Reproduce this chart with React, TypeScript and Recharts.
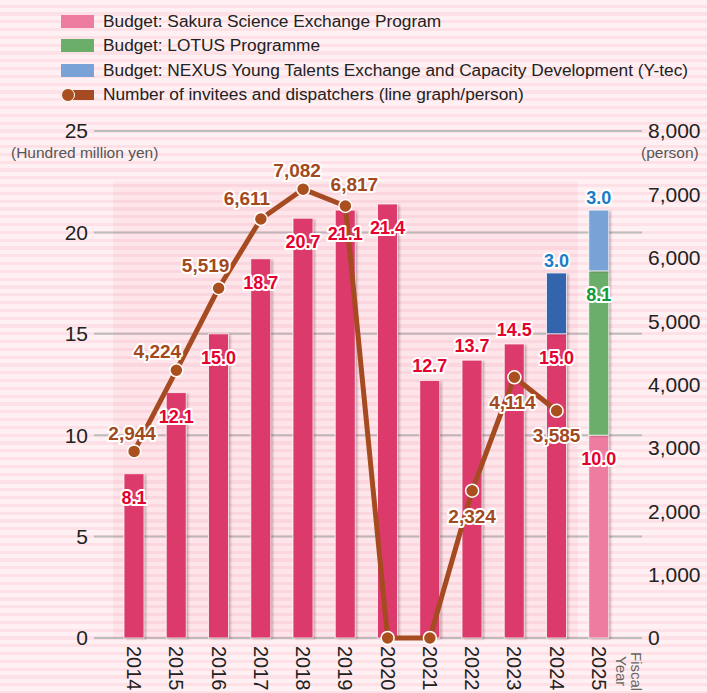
import React from 'react'
import {
  ComposedChart,
  Bar,
  Line,
  XAxis,
  YAxis,
  CartesianGrid,
  ReferenceArea,
  LabelList,
  Cell,
} from 'recharts'

// fiscal years and values
const years = ['2014', '2015', '2016', '2017', '2018', '2019', '2020', '2021', '2022', '2023', '2024', '2025']
const sakuraBudget = [8.1, 12.1, 15.0, 18.7, 20.7, 21.1, 21.4, 12.7, 13.7, 14.5, 15.0, 10.0]
const lotusBudget = [null, null, null, null, null, null, null, null, null, null, null, 8.1]
const nexusBudget = [null, null, null, null, null, null, null, null, null, null, 3.0, 3.0]
const persons = [2944, 4224, 5519, 6611, 7082, 6817, 0, 0, 2324, 4114, 3585, null]

const budgetTicks = [0, 5, 10, 15, 20, 25]
const personTicks = [0, 1000, 2000, 3000, 4000, 5000, 6000, 7000, 8000]

const SANS = "'Liberation Sans', Arial, sans-serif"
const NARROW = "'Liberation Sans Narrow', 'Liberation Sans', Arial, sans-serif"

const SAKURA = '#DB3A6B'
const SAKURA_PLAN = '#EE7CA1'
const LOTUS = '#6BAE69'
const NEXUS = '#3564AE'
const NEXUS_PLAN = '#79A3D6'
const LINE = '#A64B21'

// labels that sit above the bar instead of inside it
const sakuraLabelAbove = ['2021', '2022', '2023']
// label offset from the dot, per year
const personLabelOffset: Record<string, [number, number]> = {
  '2014': [-2, -18],
  '2015': [-19, -19],
  '2016': [-13, -23],
  '2017': [-14, -21],
  '2018': [-6, -19],
  '2019': [9, -21],
  '2022': [0, 26],
  '2023': [-2, 25],
  '2024': [0, 25],
}

const data = years.map((year, i) => ({
  year,
  sakura: sakuraBudget[i],
  lotus: lotusBudget[i],
  nexus: nexusBudget[i],
  persons: persons[i],
}))

const outlined = (x: number, y: number, text: string, fill: string, size: number) => (
  <text
    x={x}
    y={y}
    textAnchor="middle"
    dominantBaseline="central"
    fontFamily={SANS}
    fontWeight={700}
    fontSize={size}
    fill={fill}
    stroke="#fff"
    strokeWidth={4}
    strokeLinejoin="round"
    paintOrder="stroke"
  >
    {text}
  </text>
)

const BarShape = (props: any) => {
  const { x, y, width, height, fill } = props
  if (!height || height <= 0.5) return null
  return (
    <g>
      <rect x={x + 2} y={y + 1} width={width} height={height} fill="rgba(70,0,20,0.3)" style={{ filter: 'blur(1.2px)' }} />
      <rect x={x} y={y} width={width} height={height} fill={fill} stroke="rgba(255,255,255,0.75)" strokeWidth={1} />
    </g>
  )
}

const PersonDot = (props: any) => {
  const { cx, cy, value } = props
  if (value == null || cx == null || cy == null) return null
  return <circle cx={cx} cy={cy} r={6.5} fill="#A9501E" stroke="#fff" strokeWidth={1.5} />
}

const YearTick = ({ x, y, payload }: any) => (
  <text
    transform={`translate(${x},${y}) rotate(90)`}
    textAnchor="start"
    dominantBaseline="central"
    fontFamily={SANS}
    fontSize={20}
    fill="#222"
  >
    {payload.value}
  </text>
)

export default function App() {
  const sakuraLabel = (p: any) => {
    const v = sakuraBudget[p.index]
    if (v == null || !p.width) return null
    const above = sakuraLabelAbove.includes(years[p.index])
    return outlined(p.x + p.width / 2, p.y + (above ? -14 : 24), v.toFixed(1), '#E6002D', 18)
  }
  const lotusLabel = (p: any) => {
    const v = lotusBudget[p.index]
    if (v == null || !p.width) return null
    return outlined(p.x + p.width / 2, p.y + 24, v.toFixed(1), '#0F9A3C', 18)
  }
  const nexusLabel = (p: any) => {
    const v = nexusBudget[p.index]
    if (v == null || !p.width) return null
    return outlined(p.x + p.width / 2, p.y - 12, v.toFixed(1), '#1A7CC9', 18)
  }
  const personLabel = (p: any) => {
    const v = persons[p.index]
    const off = personLabelOffset[years[p.index]]
    if (!v || !off) return null
    return outlined(p.x + off[0], p.y + off[1], v.toLocaleString('en-US'), '#A24A1E', 19)
  }

  const legendRows = [
    { label: 'Budget: Sakura Science Exchange Program', color: SAKURA_PLAN },
    { label: 'Budget: LOTUS Programme', color: LOTUS },
    { label: 'Budget: NEXUS Young Talents Exchange and Capacity Development (Y-tec)', color: NEXUS_PLAN },
  ]

  return (
    <div
      style={{
        position: 'absolute',
        left: 0,
        top: 0,
        width: 707,
        height: 693,
        overflow: 'hidden',
        background:
          'repeating-linear-gradient(to bottom, #FFF1F3 0px, #FFF1F3 4.5px, #FDE1E6 4.5px, #FDE1E6 7.8px)',
        fontFamily: SANS,
      }}
    >
      <div style={{ position: 'absolute', left: 61, top: 9 }}>
        {legendRows.map((r) => (
          <div key={r.label} style={{ display: 'flex', alignItems: 'center', height: 24.5 }}>
            <div style={{ width: 33, height: 13, background: r.color, marginRight: 9 }} />
            <span style={{ fontSize: 17.3, color: '#222' }}>{r.label}</span>
          </div>
        ))}
        <div style={{ display: 'flex', alignItems: 'center', height: 24.5 }}>
          <svg width={33} height={16} style={{ marginRight: 9 }}>
            <rect x={6} y={3} width={27} height={10} fill={LINE} />
            <circle cx={7} cy={8} r={6.5} fill="#A9501E" stroke="#fff" strokeWidth={1} />
          </svg>
          <span style={{ fontSize: 17.3, color: '#222' }}>Number of invitees and dispatchers (line graph/person)</span>
        </div>
      </div>

      <div style={{ position: 'absolute', left: 11, top: 144, fontSize: 15.5, color: '#555' }}>(Hundred million yen)</div>
      <div style={{ position: 'absolute', left: 641, top: 144, fontSize: 15.5, color: '#555' }}>(person)</div>
      <div
        style={{
          position: 'absolute',
          left: 614,
          top: 652,
          writingMode: 'vertical-rl',
          textAlign: 'center',
          fontSize: 15,
          lineHeight: '15px',
          color: '#666',
        }}
      >
        Fiscal
        <br />
        Year
      </div>

      <ComposedChart
        width={707}
        height={693}
        data={data}
        margin={{ top: 131, right: 0, bottom: 0, left: 34 }}
        style={{ position: 'absolute', left: 0, top: 0 }}
      >
        <ReferenceArea
          yAxisId="left"
          x1="2014"
          x2="2024"
          y1={0}
          y2={22.5}
          fill="#E8577A"
          fillOpacity={0.08}
          stroke="none"
          ifOverflow="visible"
        />
        <CartesianGrid yAxisId="left" vertical={false} stroke="#BDBDBD" strokeWidth={2} />
        <XAxis
          dataKey="year"
          height={55}
          axisLine={false}
          tickLine={false}
          tickSize={0}
          tickMargin={8}
          interval={0}
          padding={{ left: 19, right: 22 }}
          tick={<YearTick />}
        />
        <YAxis
          yAxisId="left"
          domain={[0, 25]}
          ticks={budgetTicks}
          width={60}
          axisLine={false}
          tickLine={false}
          tickSize={0}
          tickMargin={6}
          tick={{ fontFamily: NARROW, fontSize: 21, fill: '#222' }}
        />
        <YAxis
          yAxisId="right"
          orientation="right"
          domain={[0, 8000]}
          ticks={personTicks}
          width={65}
          axisLine={false}
          tickLine={false}
          tickSize={0}
          tickMargin={6}
          tickFormatter={(v: number) => v.toLocaleString('en-US')}
          tick={{ fontFamily: NARROW, fontSize: 21, fill: '#222' }}
        />
        <Bar yAxisId="left" dataKey="sakura" stackId="budget" barSize={20} fill={SAKURA} shape={<BarShape />} isAnimationActive={false}>
          {data.map((_, i) => (
            <Cell key={`s-${i}`} fill={i === data.length - 1 ? SAKURA_PLAN : SAKURA} />
          ))}
          <LabelList dataKey="sakura" content={sakuraLabel} />
        </Bar>
        <Bar yAxisId="left" dataKey="lotus" stackId="budget" barSize={20} fill={LOTUS} shape={<BarShape />} isAnimationActive={false}>
          <LabelList dataKey="lotus" content={lotusLabel} />
        </Bar>
        <Bar yAxisId="left" dataKey="nexus" stackId="budget" barSize={20} fill={NEXUS} shape={<BarShape />} isAnimationActive={false}>
          {data.map((_, i) => (
            <Cell key={`n-${i}`} fill={i === data.length - 1 ? NEXUS_PLAN : NEXUS} />
          ))}
          <LabelList dataKey="nexus" content={nexusLabel} />
        </Bar>
        <Line
          yAxisId="right"
          type="linear"
          dataKey="persons"
          stroke={LINE}
          strokeWidth={5}
          strokeLinejoin="round"
          dot={<PersonDot />}
          activeDot={false}
          connectNulls={false}
          isAnimationActive={false}
        >
          <LabelList dataKey="persons" content={personLabel} />
        </Line>
      </ComposedChart>
    </div>
  )
}
